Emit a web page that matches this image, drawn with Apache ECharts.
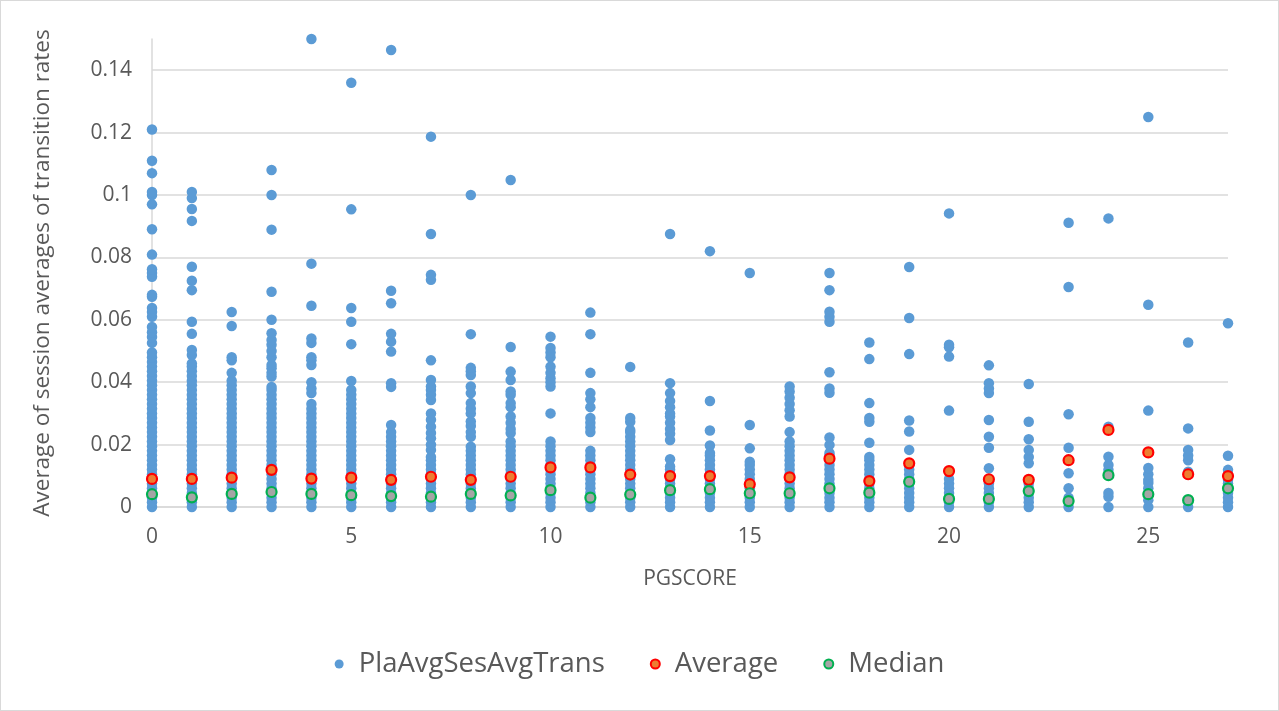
<!DOCTYPE html>
<html>
<head>
<meta charset="utf-8">
<script src="https://cdn.jsdelivr.net/npm/echarts@6/dist/echarts.min.js"></script>
<style>
  html, body { margin: 0; padding: 0; background: #fff; }
  #chart { width: 1277px; height: 709px; border: 1px solid #d9d9d9; }
</style>
</head>
<body>
<div id="chart"></div>
<script>
// PGSCORE categories (x values)
var pgScores = [0, 1, 2, 3, 4, 5, 6, 7, 8, 9, 10, 11, 12, 13, 14, 15, 16, 17, 18, 19, 20, 21, 22, 23, 24, 25, 26, 27];

// PlaAvgSesAvgTrans values per score (the low bands are packed solid)
var transByScore = [
  [0, 0.0015, 0.003, 0.0045, 0.006, 0.0075, 0.009, 0.0105, 0.012, 0.0135, 0.015, 0.0165, 0.018, 0.0195, 0.021, 0.0225, 0.024, 0.0255, 0.027, 0.0285, 0.03, 0.0315, 0.033, 0.0345, 0.036, 0.0375, 0.039, 0.0405, 0.042, 0.0435, 0.045, 0.0465, 0.048, 0.0495, 0.0526, 0.0545, 0.056, 0.0577, 0.061, 0.0625, 0.0638, 0.0674, 0.068, 0.0738, 0.075, 0.0762, 0.0809, 0.089, 0.097, 0.1, 0.101, 0.107, 0.111, 0.121],
  [0, 0.0015, 0.003, 0.0045, 0.006, 0.0075, 0.009, 0.0105, 0.012, 0.0135, 0.015, 0.0165, 0.018, 0.0195, 0.021, 0.0225, 0.024, 0.0255, 0.027, 0.0285, 0.03, 0.0315, 0.033, 0.0345, 0.036, 0.0375, 0.039, 0.0405, 0.042, 0.0435, 0.045, 0.046, 0.0487, 0.0503, 0.0555, 0.0594, 0.0695, 0.0725, 0.077, 0.0917, 0.0955, 0.099, 0.101],
  [0, 0.0015, 0.003, 0.0045, 0.006, 0.0075, 0.009, 0.0105, 0.012, 0.0135, 0.015, 0.0165, 0.018, 0.0195, 0.021, 0.0225, 0.024, 0.0255, 0.027, 0.0285, 0.03, 0.0315, 0.033, 0.0345, 0.036, 0.0375, 0.039, 0.0405, 0.043, 0.047, 0.048, 0.058, 0.0625],
  [0, 0.0015, 0.003, 0.0045, 0.006, 0.0075, 0.009, 0.0105, 0.012, 0.0135, 0.015, 0.0165, 0.018, 0.0195, 0.021, 0.0225, 0.024, 0.0255, 0.027, 0.0285, 0.03, 0.0315, 0.033, 0.0345, 0.036, 0.0375, 0.0385, 0.0418, 0.043, 0.0445, 0.0455, 0.048, 0.05, 0.052, 0.0535, 0.0557, 0.06, 0.069, 0.0889, 0.1, 0.108],
  [0, 0.0015, 0.003, 0.0045, 0.006, 0.0075, 0.009, 0.0105, 0.012, 0.0135, 0.015, 0.0165, 0.018, 0.0195, 0.021, 0.0225, 0.024, 0.0255, 0.027, 0.0285, 0.03, 0.0315, 0.033, 0.0365, 0.038, 0.04, 0.0455, 0.047, 0.048, 0.0526, 0.054, 0.0645, 0.078, 0.15],
  [0, 0.0015, 0.003, 0.0045, 0.006, 0.0075, 0.009, 0.0105, 0.012, 0.0135, 0.015, 0.0165, 0.018, 0.0195, 0.021, 0.0225, 0.024, 0.0255, 0.027, 0.0285, 0.03, 0.0315, 0.033, 0.0345, 0.036, 0.0375, 0.0404, 0.0522, 0.0594, 0.0638, 0.0954, 0.136],
  [0, 0.0015, 0.003, 0.0045, 0.006, 0.0075, 0.009, 0.0105, 0.012, 0.0135, 0.015, 0.0165, 0.018, 0.0195, 0.021, 0.0225, 0.024, 0.0263, 0.0385, 0.0397, 0.0498, 0.053, 0.0555, 0.0653, 0.0693, 0.1465],
  [0, 0.0015, 0.003, 0.0045, 0.006, 0.0075, 0.009, 0.0105, 0.012, 0.0135, 0.015, 0.016, 0.0183, 0.02, 0.022, 0.0237, 0.0257, 0.028, 0.03, 0.0343, 0.036, 0.0375, 0.0386, 0.0407, 0.047, 0.0728, 0.0744, 0.0875, 0.1187],
  [0, 0.0015, 0.003, 0.0045, 0.006, 0.0075, 0.009, 0.0105, 0.012, 0.0135, 0.015, 0.0165, 0.018, 0.0193, 0.0225, 0.024, 0.026, 0.0274, 0.03, 0.0315, 0.0333, 0.0365, 0.0386, 0.0423, 0.0435, 0.0446, 0.0554, 0.1],
  [0, 0.0015, 0.003, 0.0045, 0.006, 0.0075, 0.009, 0.0105, 0.012, 0.0135, 0.015, 0.0165, 0.018, 0.0195, 0.021, 0.0237, 0.025, 0.027, 0.029, 0.032, 0.0333, 0.036, 0.037, 0.0407, 0.0434, 0.0513, 0.1048],
  [0, 0.0015, 0.003, 0.0045, 0.006, 0.0075, 0.009, 0.0105, 0.012, 0.0135, 0.015, 0.0165, 0.018, 0.0195, 0.021, 0.03, 0.0386, 0.04, 0.0413, 0.043, 0.045, 0.048, 0.0495, 0.051, 0.0546],
  [0, 0.0015, 0.003, 0.0045, 0.006, 0.0075, 0.009, 0.0105, 0.012, 0.0135, 0.015, 0.0165, 0.018, 0.024, 0.0255, 0.027, 0.0285, 0.032, 0.0345, 0.0365, 0.043, 0.0554, 0.0623],
  [0, 0.0015, 0.003, 0.0045, 0.006, 0.0075, 0.009, 0.0105, 0.012, 0.0135, 0.015, 0.0165, 0.018, 0.0195, 0.021, 0.0225, 0.024, 0.0247, 0.0273, 0.0285, 0.0449],
  [0, 0.0015, 0.003, 0.0045, 0.006, 0.0075, 0.009, 0.0105, 0.012, 0.013, 0.0153, 0.0215, 0.0235, 0.025, 0.027, 0.029, 0.03, 0.032, 0.034, 0.0365, 0.0397, 0.0875],
  [0, 0.0015, 0.003, 0.0045, 0.006, 0.0075, 0.009, 0.0105, 0.012, 0.0135, 0.015, 0.0165, 0.0173, 0.0197, 0.0245, 0.034, 0.082],
  [0, 0.0015, 0.003, 0.0045, 0.006, 0.0075, 0.009, 0.0105, 0.012, 0.0135, 0.0145, 0.0188, 0.0263, 0.075],
  [0, 0.0015, 0.003, 0.0045, 0.006, 0.0075, 0.009, 0.0105, 0.012, 0.0135, 0.015, 0.0165, 0.018, 0.0195, 0.021, 0.024, 0.029, 0.031, 0.033, 0.035, 0.037, 0.0386],
  [0, 0.0015, 0.003, 0.0045, 0.006, 0.0075, 0.009, 0.0105, 0.012, 0.0135, 0.015, 0.0165, 0.0173, 0.0199, 0.0223, 0.0366, 0.038, 0.0432, 0.0594, 0.061, 0.0626, 0.0695, 0.075],
  [0, 0.0015, 0.003, 0.0045, 0.006, 0.0075, 0.009, 0.0105, 0.012, 0.0135, 0.015, 0.016, 0.0206, 0.0273, 0.0285, 0.0333, 0.0474, 0.0527],
  [0, 0.0015, 0.003, 0.0045, 0.006, 0.0075, 0.009, 0.0105, 0.012, 0.0135, 0.014, 0.0183, 0.0242, 0.0277, 0.049, 0.0606, 0.0769],
  [0, 0.0015, 0.003, 0.0045, 0.006, 0.0075, 0.009, 0.0309, 0.0482, 0.0512, 0.052, 0.0941],
  [0, 0.0015, 0.003, 0.0045, 0.006, 0.0075, 0.009, 0.0124, 0.019, 0.0225, 0.0279, 0.0365, 0.038, 0.0397, 0.0454],
  [0, 0.0015, 0.003, 0.0045, 0.006, 0.0075, 0.0087, 0.014, 0.016, 0.0183, 0.0217, 0.0273, 0.0394],
  [0, 0.0015, 0.003, 0.006, 0.0108, 0.019, 0.0297, 0.0705, 0.0911],
  [0, 0.0033, 0.0045, 0.0119, 0.0135, 0.0161, 0.0247, 0.0257, 0.0925],
  [0, 0.0022, 0.0045, 0.006, 0.0077, 0.0087, 0.0105, 0.0125, 0.0309, 0.0648, 0.125],
  [0, 0.0103, 0.0113, 0.015, 0.0165, 0.0183, 0.0252, 0.0527],
  [0, 0.0015, 0.003, 0.0045, 0.006, 0.0075, 0.0087, 0.0103, 0.0119, 0.0164, 0.0589]
];

// Average per score
var averages = [0.009, 0.009, 0.0094, 0.0119, 0.0091, 0.0094, 0.0087, 0.0097, 0.0087, 0.0097, 0.0127, 0.0127, 0.0104, 0.0099, 0.0099, 0.0073, 0.0095, 0.0155, 0.0083, 0.014, 0.0115, 0.0089, 0.0087, 0.015, 0.0247, 0.0175, 0.0105, 0.0099];

// Median per score
var medians = [0.0041, 0.0031, 0.0042, 0.0048, 0.0042, 0.0038, 0.0035, 0.0033, 0.0042, 0.0037, 0.0054, 0.003, 0.004, 0.0054, 0.0057, 0.0044, 0.0044, 0.006, 0.0046, 0.0081, 0.0026, 0.0026, 0.0051, 0.0019, 0.0102, 0.0041, 0.0022, 0.006];

var seriesNames = ['PlaAvgSesAvgTrans', 'Average', 'Median'];

var blueData = [];
pgScores.forEach(function (s, i) {
  transByScore[i].forEach(function (v) {
    blueData.push([s, v]);
  });
});
var avgData = pgScores.map(function (s, i) { return [s, averages[i]]; });
var medData = pgScores.map(function (s, i) { return [s, medians[i]]; });

var font = '"Open Sans", "Noto Sans", sans-serif';
var gridColor = '#d9d9d9';
var textColor = '#595959';

var chart = echarts.init(document.getElementById('chart'), null, { renderer: 'canvas' });

chart.setOption({
  animation: false,
  backgroundColor: '#fff',
  grid: {
    left: 151,
    right: 50,
    top: 38,
    bottom: 203
  },
  legend: {
    bottom: 27,
    left: 'center',
    itemGap: 45,
    itemWidth: 9,
    itemHeight: 9,
    icon: 'circle',
    textStyle: { color: textColor, fontSize: 27.5, fontFamily: font, padding: [0, 0, 0, 10] },
    data: seriesNames
  },
  xAxis: {
    type: 'value',
    min: 0,
    max: 27,
    interval: 5,
    name: 'PGSCORE',
    nameLocation: 'middle',
    nameGap: 62,
    nameTextStyle: { color: textColor, fontSize: 21, fontFamily: font },
    axisLine: { show: true, lineStyle: { color: gridColor, width: 1.5 } },
    axisTick: { show: false },
    splitLine: { show: false },
    axisLabel: {
      color: textColor,
      fontSize: 21,
      fontFamily: font,
      margin: 20,
      showMaxLabel: false
    }
  },
  yAxis: {
    type: 'value',
    min: 0,
    max: 0.15,
    interval: 0.02,
    name: 'Average of session averages of transition rates',
    nameLocation: 'middle',
    nameGap: 98,
    nameTextStyle: { color: textColor, fontSize: 22.5, fontFamily: font },
    axisLine: { show: true, lineStyle: { color: gridColor, width: 1.5 } },
    axisTick: { show: false },
    splitLine: {
      show: true,
      lineStyle: {
        color: [gridColor, gridColor, gridColor, gridColor, gridColor, gridColor, gridColor, gridColor, 'rgba(0,0,0,0)'],
        width: 1.5
      }
    },
    axisLabel: {
      color: textColor,
      fontSize: 21,
      fontFamily: font,
      margin: 20,
      showMaxLabel: false,
      formatter: function (v) { return String(+v.toFixed(2)); }
    }
  },
  series: [
    {
      name: seriesNames[0],
      type: 'scatter',
      symbol: 'circle',
      symbolSize: 10.5,
      itemStyle: { color: '#5b9bd5', opacity: 1, borderWidth: 0 },
      data: blueData,
      z: 2
    },
    {
      name: seriesNames[1],
      type: 'scatter',
      symbol: 'circle',
      symbolSize: 10,
      itemStyle: { color: '#ed7d31', borderColor: '#ff0000', borderWidth: 2.2, opacity: 1 },
      data: avgData,
      z: 3
    },
    {
      name: seriesNames[2],
      type: 'scatter',
      symbol: 'circle',
      symbolSize: 10,
      itemStyle: { color: '#a5a5a5', borderColor: '#00b050', borderWidth: 2.2, opacity: 1 },
      data: medData,
      z: 4
    }
  ]
});
</script>
</body>
</html>
